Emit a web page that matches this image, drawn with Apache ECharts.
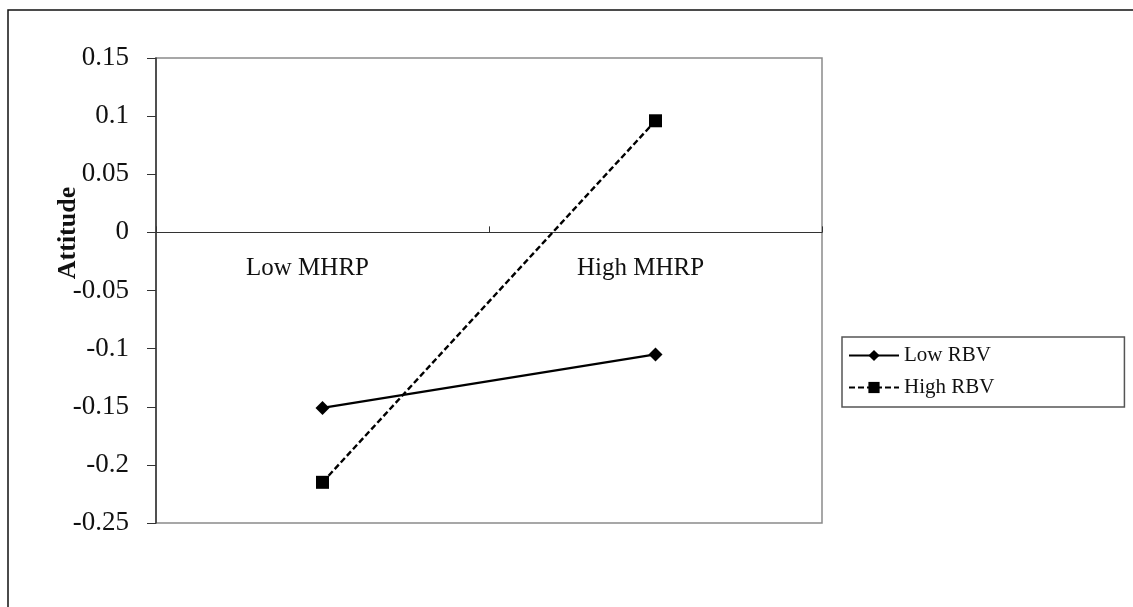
<!DOCTYPE html>
<html>
<head>
<meta charset="utf-8">
<script src="https://cdn.jsdelivr.net/npm/echarts@6/dist/echarts.min.js"></script>
<style>
  html, body { margin: 0; padding: 0; background: #fff; }
  #chart { width: 1133px; height: 607px; }
</style>
</head>
<body>
<div id="chart"></div>
<script>
// Interaction plot: attitude by MHRP level, split by RBV level
const categories = ['Low MHRP', 'High MHRP'];
const lowRBV = [-0.151, -0.105];
const highRBV = [-0.215, 0.096];
const seriesNames = ['Low RBV', 'High RBV'];
const yTicks = { min: -0.25, max: 0.15, interval: 0.05 };
const yName = 'Attitude';

const serif = '"Liberation Serif", "DejaVu Serif", serif';
const chart = echarts.init(document.getElementById('chart'), null, { renderer: 'canvas' });

chart.setOption({
  animation: false,
  backgroundColor: '#fff',
  grid: {
    left: 156, top: 58, width: 666, height: 465,
    show: true, borderColor: '#8a8a8a', borderWidth: 1.5, backgroundColor: 'transparent'
  },
  xAxis: {
    type: 'category',
    data: categories,
    boundaryGap: true,
    axisLine: { onZero: true, lineStyle: { color: '#333', width: 1.2 } },
    axisTick: { show: true, inside: true, length: 6, lineStyle: { color: '#333' } },
    // category names sit just under the zero line
    axisLabel: {
      margin: -267, color: '#111', fontFamily: serif, fontSize: 25,
      padding: [0, 30, 0, 0]
    },
    splitLine: { show: false }
  },
  yAxis: {
    type: 'value',
    min: yTicks.min, max: yTicks.max, interval: yTicks.interval,
    axisLine: { show: true, onZero: false, lineStyle: { color: '#333', width: 1.5 } },
    axisTick: { show: true, inside: false, length: 9, lineStyle: { color: '#333' } },
    axisLabel: {
      margin: 27, color: '#111', fontFamily: serif, fontSize: 27,
      formatter: v => String(Math.round(v * 100) / 100)
    },
    splitLine: { show: false }
  },
  legend: {
    orient: 'vertical',
    left: 842, top: 337,
    padding: [8, 130, 9, 6],
    itemGap: 11,
    itemWidth: 50, itemHeight: 14,
    borderColor: '#555', borderWidth: 1.5,
    textStyle: { fontFamily: serif, fontSize: 21, color: '#111' },
    data: seriesNames
  },
  series: [
    {
      name: seriesNames[0],
      type: 'line',
      data: lowRBV,
      symbol: 'diamond', symbolSize: 14,
      itemStyle: { color: '#000' },
      lineStyle: { color: '#000', width: 2.2, type: 'solid' }
    },
    {
      name: seriesNames[1],
      type: 'line',
      data: highRBV,
      symbol: 'rect', symbolSize: 13,
      itemStyle: { color: '#000' },
      lineStyle: { color: '#000', width: 2.4, type: [6, 3] }
    }
  ],
  graphic: [
    {
      type: 'polyline',
      shape: { points: [[8, 607], [8, 10], [1133, 10]] },
      style: { stroke: '#111', lineWidth: 1.5, fill: null }
    },
    {
      type: 'text',
      x: 68, y: 233, rotation: Math.PI / 2,
      style: {
        text: yName, fontFamily: serif, fontSize: 26, fontWeight: 'bold',
        fill: '#111', align: 'center', verticalAlign: 'middle'
      }
    }
  ]
});
</script>
</body>
</html>
